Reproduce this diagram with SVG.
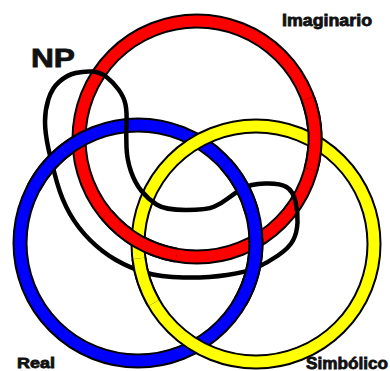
<svg xmlns="http://www.w3.org/2000/svg" width="390" height="371" viewBox="0 0 390 371">
<style>
.ol{fill:none;stroke:#000;stroke-width:15}
.red{fill:none;stroke:#ff0000;stroke-width:11}
.blue{fill:none;stroke:#0000ff;stroke-width:11}
.yel{fill:none;stroke:#ffff00;stroke-width:11}
.np{fill:none;stroke:#000;stroke-width:4.5;stroke-linejoin:round;stroke-linecap:round}
.lbl{font-family:"Liberation Sans",Arial,sans-serif;font-weight:bold;fill:#111;stroke:#111;stroke-width:0.8}
</style>
<rect width="390" height="371" fill="#fff"/>
<g id="ring-imaginario">
<circle cx="197" cy="139" r="118" class="ol"/>
<circle cx="197" cy="139" r="118" class="red"/>
</g>
<g id="ring-real">
<circle cx="138" cy="243" r="118" class="ol"/>
<circle cx="138" cy="243" r="118" class="blue"/>
</g>
<g id="ring-simbolico">
<circle cx="256" cy="244" r="118" class="ol"/>
<circle cx="256" cy="244" r="118" class="yel"/>
</g>
<g id="np-loop">
<path class="np" d="M 75.5 73 Q 84 71 92 71.5 Q 100 72 106.5 77 Q 113 82 118.5 89.5 Q 124 97 125.5 104.5 Q 127 112 126.5 123.5 Q 126 135 126.5 147.5 Q 127 160 131 171.5 Q 135 183 141.5 191 Q 148 199 156.5 204.5 Q 165 210 186 210 Q 207 210 214.5 206.5 Q 222 203 228.5 198 Q 235 193 242.5 188.5 Q 250 184 265 183.5 Q 280 183 286.5 187 Q 293 191 295.5 201.5 Q 298 212 297.5 222.5 Q 297 233 293 240.5 Q 289 248 278 255.5 Q 267 263 257 267.5 Q 247 272 227 275 Q 207 278 183.5 277.5 Q 160 277 145 272.5 Q 130 268 116 260 Q 102 252 90 240 Q 78 228 70 214 Q 62 200 57 182.5 Q 52 165 48.5 149 Q 45 133 45 121.5 Q 45 110 48.5 99 Q 52 88 59.5 81.5 Q 67 75 75.5 73 Z"/>
</g>
<g id="crossings">
<path class="ol" d="M 307.9 98.6 A 118 118 0 0 1 311.0 169.5"/>
<path class="red" d="M 307.9 98.6 A 118 118 0 0 1 311.0 169.5"/>
<path class="ol" d="M 176.5 255.2 A 118 118 0 0 1 106.6 214.8"/>
<path class="red" d="M 176.5 255.2 A 118 118 0 0 1 106.6 214.8"/>
<path class="ol" d="M 33.8 187.6 A 118 118 0 0 1 72.0 145.2"/>
<path class="blue" d="M 33.8 187.6 A 118 118 0 0 1 72.0 145.2"/>
<path class="ol" d="M 225.7 164.0 A 118 118 0 0 1 252.0 212.5"/>
<path class="blue" d="M 225.7 164.0 A 118 118 0 0 1 252.0 212.5"/>
<path class="ol" d="M 255.9 238.9 A 118 118 0 0 1 240.2 302"/>
<path class="blue" d="M 255.9 238.9 A 118 118 0 0 1 240.2 302"/>
<path class="ol" d="M 153.8 303 A 118 118 0 0 1 138.9 258.4"/>
<path class="yel" d="M 153.8 303 A 118 118 0 0 1 138.9 258.4"/>
</g>
<g id="labels">
<text class="lbl" x="31" y="67" font-size="26" textLength="44" lengthAdjust="spacingAndGlyphs" stroke-width="1.4">NP</text>
<text class="lbl" x="282" y="26" font-size="16.5" textLength="90" lengthAdjust="spacingAndGlyphs">Imaginario</text>
<text class="lbl" x="17" y="368" font-size="15.5" textLength="38" lengthAdjust="spacingAndGlyphs">Real</text>
<text class="lbl" x="306" y="369" font-size="16" textLength="82" lengthAdjust="spacingAndGlyphs">Simbólico</text>
</g>
</svg>
